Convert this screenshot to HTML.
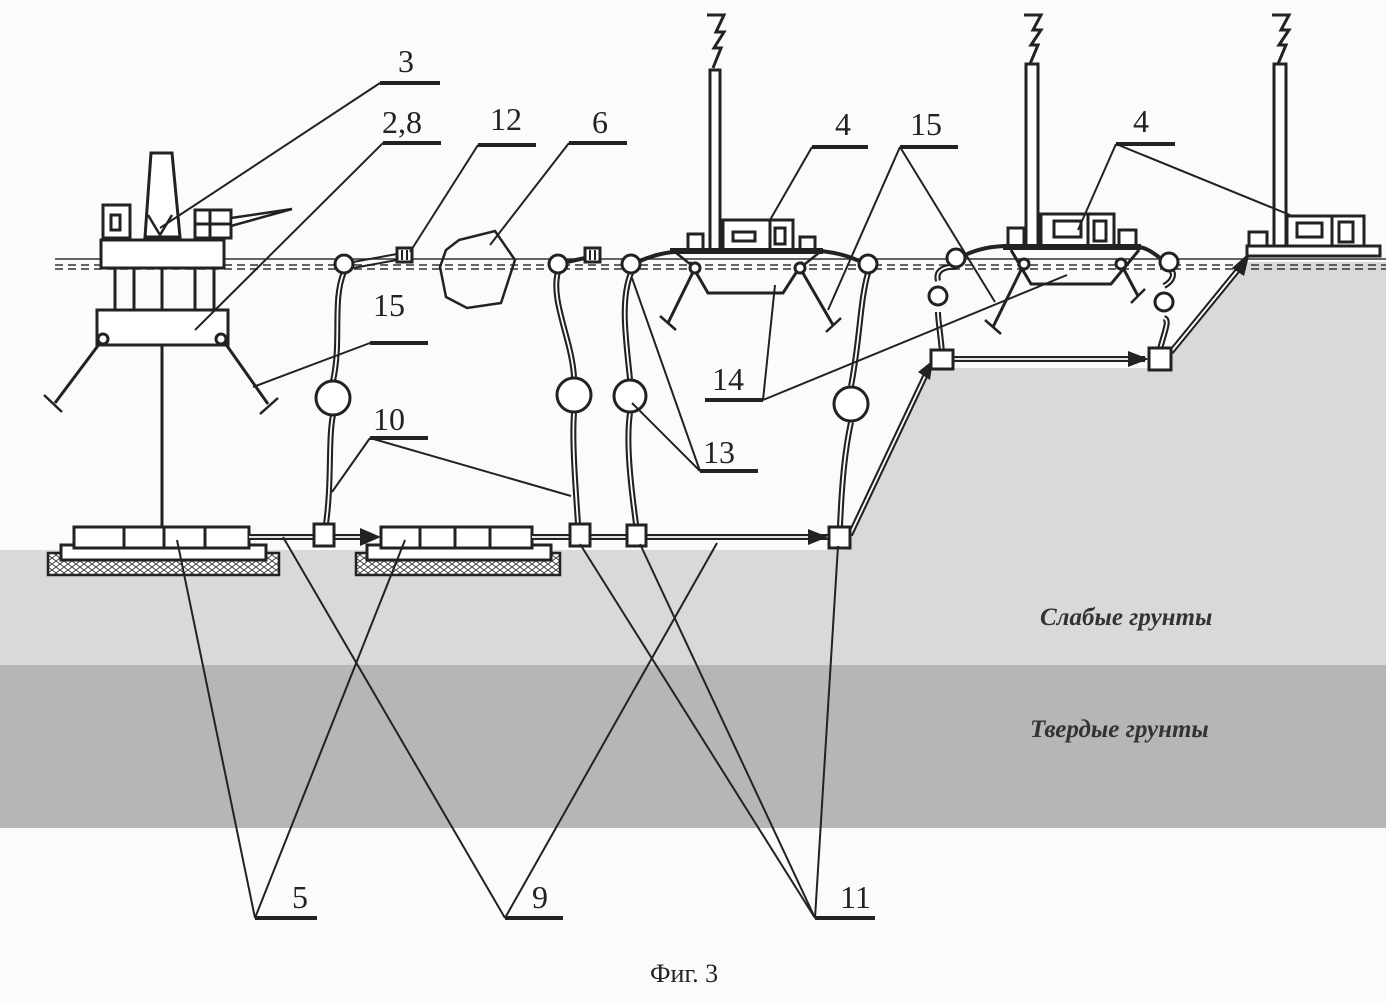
<!DOCTYPE html>
<html><head><meta charset="utf-8"><style>
html,body{margin:0;padding:0;background:#fff;}
svg{display:block;}
text{font-family:"Liberation Serif",serif;font-size:32px;fill:#222;}
.t{font-family:"Liberation Serif",serif;font-style:italic;font-weight:bold;font-size:25px;fill:#333;}
</style></head><body>
<svg width="1386" height="1002" viewBox="0 0 1386 1002" xmlns="http://www.w3.org/2000/svg">
<defs>
<pattern id="hatch" width="8" height="6" patternUnits="userSpaceOnUse">
<rect width="8" height="6" fill="#fff"/>
<path d="M0 3 L4 0 L8 3 L4 6 Z" fill="none" stroke="#444" stroke-width="1"/>
</pattern>
</defs>
<rect width="1386" height="1002" fill="#fbfbfb"/>
<polygon points="0,550 845,550 931,368 1160,368 1246,262 1386,262 1386,665 0,665" fill="#d9d9d9"/>
<rect x="0" y="665" width="1386" height="163" fill="#b6b6b6"/>
<text class="t" x="1040" y="625">Слабые грунты</text>
<text class="t" x="1030" y="737">Твердые грунты</text>

<g stroke="#333" fill="none">
<line x1="55" y1="259" x2="1386" y2="259" stroke-width="1.5"/>
<line x1="55" y1="265" x2="1386" y2="265" stroke-width="1.5" stroke-dasharray="8,5"/>
<line x1="55" y1="269" x2="1386" y2="269" stroke-width="1.5" stroke-dasharray="8,5"/>
</g>

<g stroke="#222" stroke-width="3" fill="none">
<polygon points="151,153 172,153 180,237 145,237" fill="#fff"/>
<polyline points="148,215 160,235 172,215" stroke-width="2.5"/>
<rect x="103" y="205" width="27" height="33" fill="#fff"/>
<rect x="111" y="215" width="9" height="15"/>
<rect x="195" y="210" width="36" height="28" fill="#fff"/>
<line x1="195" y1="224" x2="231" y2="224"/><line x1="210" y1="210" x2="210" y2="238"/>
<polygon points="231,218 292,209 231,226" fill="#fff" stroke-width="2.5"/>
<rect x="101" y="240" width="123" height="28" fill="#fff"/>
<line x1="115" y1="268" x2="115" y2="310"/><line x1="134" y1="268" x2="134" y2="310"/>
<line x1="162" y1="268" x2="162" y2="310"/><line x1="195" y1="268" x2="195" y2="310"/>
<line x1="214" y1="268" x2="214" y2="310"/>
<rect x="97" y="310" width="131" height="35" fill="#fff"/>
<circle cx="103" cy="339" r="5"/><circle cx="221" cy="339" r="5"/>
<line x1="162" y1="345" x2="162" y2="527"/>
<line x1="100" y1="343" x2="55" y2="403"/><line x1="44" y1="395" x2="62" y2="412" stroke-width="2.5"/>
<line x1="225" y1="343" x2="268" y2="404"/><line x1="260" y1="414" x2="278" y2="398" stroke-width="2.5"/>

<rect x="48" y="553" width="231" height="22" fill="url(#hatch)" stroke-width="2.5"/>
<rect x="61" y="545" width="205" height="15" fill="#fff"/>
<rect x="74" y="527" width="175" height="21" fill="#fff"/>
<line x1="124" y1="527" x2="124" y2="548"/><line x1="164" y1="527" x2="164" y2="548"/><line x1="205" y1="527" x2="205" y2="548"/>
<rect x="356" y="553" width="204" height="22" fill="url(#hatch)" stroke-width="2.5"/>
<rect x="367" y="545" width="184" height="15" fill="#fff"/>
<rect x="381" y="527" width="151" height="21" fill="#fff"/>
<line x1="420" y1="527" x2="420" y2="548"/><line x1="455" y1="527" x2="455" y2="548"/><line x1="490" y1="527" x2="490" y2="548"/>
</g>

<g fill="none" stroke-linecap="butt">
<g stroke="#222" stroke-width="6">
<line x1="249" y1="537" x2="372" y2="537"/>
<line x1="532" y1="537" x2="830" y2="537"/>
<line x1="850" y1="535" x2="928" y2="370"/>
<line x1="953" y1="359" x2="1145" y2="359"/>
<line x1="1171" y1="352" x2="1242" y2="265"/>
<path d="M326 524 C332 480 328 440 333 415 M333 381 C342 340 332 300 344 272"/>
<path d="M578 524 C575 480 572 440 574 413 M574 377 C572 340 550 300 558 272"/>
<path d="M636 524 C630 480 626 440 630 413 M630 379 C626 340 620 300 631 273"/>
<path d="M840 526 C842 480 845 450 851 422 M851 386 C860 340 860 300 868 273"/>
<path d="M942 352 C940 330 938 320 938 312 M938 281 C935 270 945 266 956 267"/>
<path d="M1160 349 C1165 330 1170 320 1164 318 M1164 286 C1175 280 1175 270 1169 271"/>
</g>
<g stroke="#fff" stroke-width="1.8">
<line x1="249" y1="537" x2="372" y2="537"/>
<line x1="532" y1="537" x2="830" y2="537"/>
<line x1="850" y1="535" x2="928" y2="370"/>
<line x1="953" y1="359" x2="1145" y2="359"/>
<line x1="1171" y1="352" x2="1242" y2="265"/>
<path d="M326 524 C332 480 328 440 333 415 M333 381 C342 340 332 300 344 272"/>
<path d="M578 524 C575 480 572 440 574 413 M574 377 C572 340 550 300 558 272"/>
<path d="M636 524 C630 480 626 440 630 413 M630 379 C626 340 620 300 631 273"/>
<path d="M840 526 C842 480 845 450 851 422 M851 386 C860 340 860 300 868 273"/>
<path d="M942 352 C940 330 938 320 938 312 M938 281 C935 270 945 266 956 267"/>
<path d="M1160 349 C1165 330 1170 320 1164 318 M1164 286 C1175 280 1175 270 1169 271"/>
</g>
</g>
<g fill="#222">
<polygon points="360,528 381,537 360,546"/>
<polygon points="808,529 828,537 808,545"/>
<polygon points="1128,351 1149,359 1128,367"/>
<polygon points="918,372 933,360 930,380"/>
<polygon points="1232,268 1250,252 1244,276"/>
</g>

<g stroke="#222" stroke-width="3" fill="#fff">
<rect x="314" y="524" width="20" height="22"/>
<rect x="570" y="524" width="20" height="22"/>
<rect x="627" y="525" width="19" height="21"/>
<rect x="829" y="527" width="21" height="21"/>
<rect x="931" y="350" width="22" height="19"/>
<rect x="1149" y="348" width="22" height="22"/>
<circle cx="344" cy="264" r="9"/><circle cx="333" cy="398" r="17"/>
<circle cx="558" cy="264" r="9"/><circle cx="574" cy="395" r="17"/>
<circle cx="631" cy="264" r="9"/><circle cx="630" cy="396" r="16"/>
<circle cx="868" cy="264" r="9"/><circle cx="851" cy="404" r="17"/>
<circle cx="956" cy="258" r="9"/><circle cx="938" cy="296" r="9"/>
<circle cx="1169" cy="262" r="9"/><circle cx="1164" cy="302" r="9"/>
<rect x="397" y="248" width="15" height="14"/>
<rect x="585" y="248" width="15" height="14"/>
</g>
<g stroke="#222" stroke-width="2" fill="none">
<line x1="402" y1="250" x2="402" y2="260"/><line x1="407" y1="250" x2="407" y2="260"/>
<line x1="590" y1="250" x2="590" y2="260"/><line x1="595" y1="250" x2="595" y2="260"/>
<path d="M353 262 L397 254 M353 268 L397 260" stroke-width="2"/>
<path d="M567 262 L585 258" stroke-width="4"/>
<polygon points="459,240 495,231 515,260 501,303 467,308 446,297 440,267 446,250" stroke-width="2.5"/>
<path d="M640 261 C660 252 675 252 688 250" stroke-width="4"/>
<path d="M859 261 C840 252 825 252 815 250" stroke-width="4"/>
<path d="M965 255 C980 248 995 246 1008 246" stroke-width="4"/>
<path d="M1160 258 C1150 250 1145 248 1136 246" stroke-width="4"/>
</g>

<g stroke="#222" stroke-width="3" fill="#fff">
<rect x="710" y="70" width="10" height="180"/>
<rect x="723" y="220" width="70" height="30"/>
<rect x="733" y="232" width="22" height="9"/>
<line x1="770" y1="220" x2="770" y2="250"/><rect x="775" y="228" width="10" height="16"/>
<rect x="688" y="234" width="15" height="16"/><rect x="800" y="237" width="15" height="13"/>
<line x1="670" y1="251" x2="823" y2="251" stroke-width="6"/>
<polyline points="690,262 708,293 783,293 803,262" fill="none"/>
<line x1="675" y1="252" x2="695" y2="268" stroke-width="2.5"/>
<line x1="820" y1="252" x2="800" y2="268" stroke-width="2.5"/>
<line x1="695" y1="268" x2="668" y2="323"/><line x1="660" y1="316" x2="676" y2="330" stroke-width="2.5"/>
<line x1="800" y1="268" x2="833" y2="325"/><line x1="826" y1="332" x2="841" y2="318" stroke-width="2.5"/>
<circle cx="695" cy="268" r="5"/><circle cx="800" cy="268" r="5"/>
</g>
<g stroke="#222" stroke-width="3" fill="#fff">
<rect x="1026" y="64" width="12" height="182"/>
<rect x="1041" y="214" width="73" height="32"/>
<rect x="1054" y="221" width="27" height="16"/>
<line x1="1088" y1="214" x2="1088" y2="246"/><rect x="1094" y="221" width="12" height="20"/>
<rect x="1008" y="228" width="16" height="18"/><rect x="1119" y="230" width="17" height="16"/>
<line x1="1003" y1="247" x2="1141" y2="247" stroke-width="6"/>
<polyline points="1011,250 1031,284 1111,284 1139,250" fill="none"/>
<line x1="1024" y1="264" x2="993" y2="327"/><line x1="985" y1="320" x2="1001" y2="334" stroke-width="2.5"/>
<line x1="1121" y1="264" x2="1138" y2="296"/><line x1="1131" y1="303" x2="1145" y2="289" stroke-width="2.5"/>
<circle cx="1024" cy="264" r="5"/><circle cx="1121" cy="264" r="5"/>
</g>
<g stroke="#222" stroke-width="3" fill="#fff">
<rect x="1274" y="64" width="12" height="182"/>
<rect x="1287" y="216" width="77" height="30"/>
<rect x="1297" y="223" width="25" height="14"/>
<line x1="1332" y1="216" x2="1332" y2="246"/><rect x="1339" y="222" width="14" height="20"/>
<rect x="1249" y="232" width="18" height="14"/>
<rect x="1247" y="246" width="133" height="10"/>
</g>
<g fill="none" stroke="#222" stroke-width="3">
<path d="M707 15 L724 15 L716 32 L724 32 L714 48 L721 48 L713 68"/>
<path d="M1024 15 L1041 15 L1033 30 L1041 30 L1031 45 L1038 45 L1030 64"/>
<path d="M1272 15 L1289 15 L1281 30 L1289 30 L1279 45 L1286 45 L1278 64"/>
</g>

<g stroke="#222" fill="none">
<g stroke-width="4">
<line x1="380" y1="83" x2="440" y2="83"/>
<line x1="383" y1="143" x2="441" y2="143"/>
<line x1="478" y1="145" x2="536" y2="145"/>
<line x1="569" y1="143" x2="627" y2="143"/>
<line x1="812" y1="147" x2="868" y2="147"/>
<line x1="900" y1="147" x2="958" y2="147"/>
<line x1="1116" y1="144" x2="1175" y2="144"/>
<line x1="370" y1="343" x2="428" y2="343"/>
<line x1="370" y1="438" x2="428" y2="438"/>
<line x1="705" y1="400" x2="763" y2="400"/>
<line x1="700" y1="471" x2="758" y2="471"/>
<line x1="255" y1="918" x2="317" y2="918"/>
<line x1="505" y1="918" x2="563" y2="918"/>
<line x1="815" y1="918" x2="875" y2="918"/>
</g>
<g stroke-width="2">
<line x1="380" y1="83" x2="160" y2="228"/>
<line x1="383" y1="143" x2="195" y2="330"/>
<line x1="478" y1="145" x2="410" y2="252"/>
<line x1="569" y1="143" x2="490" y2="245"/>
<line x1="812" y1="147" x2="770" y2="220"/>
<line x1="900" y1="147" x2="828" y2="310"/>
<line x1="900" y1="147" x2="995" y2="302"/>
<line x1="1116" y1="144" x2="1078" y2="230"/>
<line x1="1116" y1="144" x2="1290" y2="215"/>
<line x1="370" y1="343" x2="253" y2="387"/>
<line x1="370" y1="438" x2="332" y2="492"/>
<line x1="370" y1="438" x2="571" y2="496"/>
<line x1="763" y1="400" x2="775" y2="285"/>
<line x1="763" y1="400" x2="1067" y2="275"/>
<line x1="700" y1="471" x2="632" y2="278"/>
<line x1="700" y1="471" x2="632" y2="403"/>
<line x1="255" y1="918" x2="177" y2="540"/>
<line x1="255" y1="918" x2="405" y2="540"/>
<line x1="505" y1="918" x2="283" y2="537"/>
<line x1="505" y1="918" x2="717" y2="543"/>
<line x1="815" y1="918" x2="580" y2="544"/>
<line x1="815" y1="918" x2="640" y2="544"/>
<line x1="815" y1="918" x2="838" y2="546"/>
</g>
</g>
<g>
<text x="398" y="72">3</text>
<text x="382" y="133">2,8</text>
<text x="490" y="130">12</text>
<text x="592" y="133">6</text>
<text x="835" y="135">4</text>
<text x="910" y="135">15</text>
<text x="1133" y="132">4</text>
<text x="373" y="316">15</text>
<text x="373" y="430">10</text>
<text x="712" y="390">14</text>
<text x="703" y="463">13</text>
<text x="292" y="908">5</text>
<text x="532" y="908">9</text>
<text x="840" y="908">11</text>
<text x="650" y="982" style="font-size:26px">Фиг. 3</text>
</g>
</svg>
</body></html>
